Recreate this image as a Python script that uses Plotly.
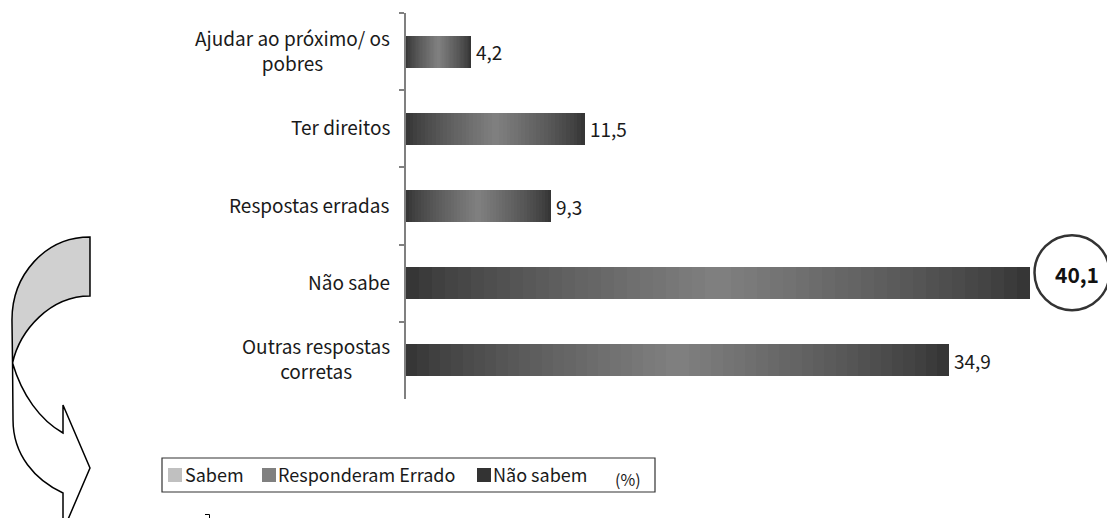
import plotly.graph_objects as go

categories = ["Ajudar ao próximo/ os<br>pobres", "Ter direitos", "Respostas erradas",
              "Não sabe", "Outras respostas<br>corretas"]
values = [4.2, 11.5, 9.3, 40.1, 34.9]
legend_labels = ["Sabem", "Responderam Errado", "Não sabem"]
legend_colors = ["#c0c0c0", "#808080", "#333333"]
unit_label = "(%)"

FONT = "Noto Sans CJK KR"
W, H = 1107, 518
L, R, T, B = 406, 0, 13, 119
PW, PH = W - L - R, H - T - B
PX_PER_UNIT = 15.55
XMAX = PW / PX_PER_UNIT

def fmt(v):
    return f"{v:.1f}".replace(".", ",")

def px(x):
    return (x - L) / PW

def py(y):
    return (H - B - y) / PH

fig = go.Figure()

# gradient bars: stacked segments
N = 48
dark = (0x33, 0x33, 0x33)
light = (0x80, 0x80, 0x80)
for i in range(N):
    t = (i + 0.5) / N
    k = 1 - abs(2 * t - 1)
    k = k ** 0.8
    c = tuple(int(round(d + (l - d) * k)) for d, l in zip(dark, light))
    fig.add_trace(go.Bar(
        x=[v / N for v in values], y=categories, orientation="h",
        marker=dict(color=f"rgb{c}", line=dict(width=0)),
        showlegend=False, hoverinfo="skip"))

shapes = []
annotations = []

imax = values.index(max(values))
for j, (c, v) in enumerate(zip(categories, values)):
    if j == imax:
        continue
    annotations.append(dict(x=v, y=c, xref="x", yref="y", xanchor="left", xshift=3,
                            text=fmt(v), showarrow=False,
                            font=dict(family=FONT, size=19, color="#1a1a1a")))

# circled highlight for max value
cx = values[imax] + 2.73
rx = 37.5 / PX_PER_UNIT
slot = PH / len(values)
shapes.append(dict(type="circle", xref="x", yref="y",
                   x0=cx - rx, x1=cx + rx,
                   y0=imax - 48 / slot, y1=imax + 27 / slot,
                   line=dict(color="#333333", width=2.5), fillcolor="white", layer="above"))
annotations.append(dict(x=cx + 0.3, y=imax, xref="x", yref="y", yshift=9,
                        text=f"<b>{fmt(values[imax])}</b>", showarrow=False,
                        font=dict(family=FONT, size=21, color="#111111")))

# category labels (centered multi-line)
for c in categories:
    annotations.append(dict(x=0, y=c, xref="paper", yref="y", xanchor="right",
                            xshift=-14, yshift=2, align="center", text=c, showarrow=False,
                            font=dict(family=FONT, size=19, color="#1a1a1a")))

# legend box
shapes.append(dict(type="rect", xref="paper", yref="paper",
                   x0=px(162), x1=px(655), y0=py(458), y1=py(492),
                   line=dict(color="#333333", width=1.2), fillcolor="white"))
sq_x = [168, 262, 477]
tx_x = [183, 276, 491]
for lab, col, sx, tx in zip(legend_labels, legend_colors, sq_x, tx_x):
    shapes.append(dict(type="rect", xref="paper", yref="paper",
                       x0=px(sx), x1=px(sx + 14), y0=py(468), y1=py(482),
                       line=dict(width=0), fillcolor=col))
    annotations.append(dict(x=px(tx), y=py(474), xref="paper", yref="paper",
                            xanchor="left", yanchor="middle", text=lab, showarrow=False,
                            font=dict(family=FONT, size=18, color="#1a1a1a")))
annotations.append(dict(x=px(613), y=py(479), xref="paper", yref="paper",
                        xanchor="left", yanchor="middle", text=unit_label, showarrow=False,
                        font=dict(family=FONT, size=16, color="#1a1a1a")))

# curved arrow decoration
def path(cmds):
    out = []
    for cmd in cmds:
        op, pts = cmd[0], cmd[1:]
        out.append(op + " ".join(f"{px(a):.4f},{py(b):.4f}" for a, b in pts))
    return " ".join(out) + " Z"

gray_part = path([("M", (90, 237)), ("C", (45, 237), (12, 275), (12, 320)),
                  ("L", (12.5, 363)), ("C", (20, 330), (50, 296), (90, 296))])
white_part = path([("M", (12.5, 363)), ("C", (22, 395), (40, 420), (63, 433)),
                   ("L", (63, 405)), ("L", (90, 468)), ("L", (63, 531)), ("L", (63, 493)),
                   ("C", (35, 480), (13, 455), (13, 420))])
shapes.append(dict(type="path", xref="paper", yref="paper", path=white_part,
                   fillcolor="white", line=dict(color="black", width=1.5)))
shapes.append(dict(type="path", xref="paper", yref="paper", path=gray_part,
                   fillcolor="#d0d0d0", line=dict(color="black", width=1.5)))
# tiny stray mark at bottom
shapes.append(dict(type="path", xref="paper", yref="paper",
                   path=f"M{px(205)},{py(514.5)} L{px(209.5)},{py(514.5)} L{px(209.5)},{py(520)}",
                   line=dict(color="black", width=1)))

fig.update_layout(
    width=W, height=H, barmode="stack", bargap=0.585,
    margin=dict(l=L, r=R, t=T, b=B),
    paper_bgcolor="white", plot_bgcolor="white",
    xaxis=dict(visible=False, range=[0, XMAX], fixedrange=True),
    yaxis=dict(type="category", categoryorder="array", categoryarray=categories,
               autorange="reversed", showticklabels=False, tickson="boundaries",
               ticks="outside", ticklen=5, tickcolor="#808080", tickwidth=1.5,
               showline=True, linecolor="#808080", linewidth=1.5, showgrid=False,
               zeroline=False, fixedrange=True),
    shapes=shapes, annotations=annotations, showlegend=False,
    font=dict(family=FONT),
)

fig.write_html("out.html", config={"displayModeBar": False},
               post_script="document.body.style.margin='0';")
